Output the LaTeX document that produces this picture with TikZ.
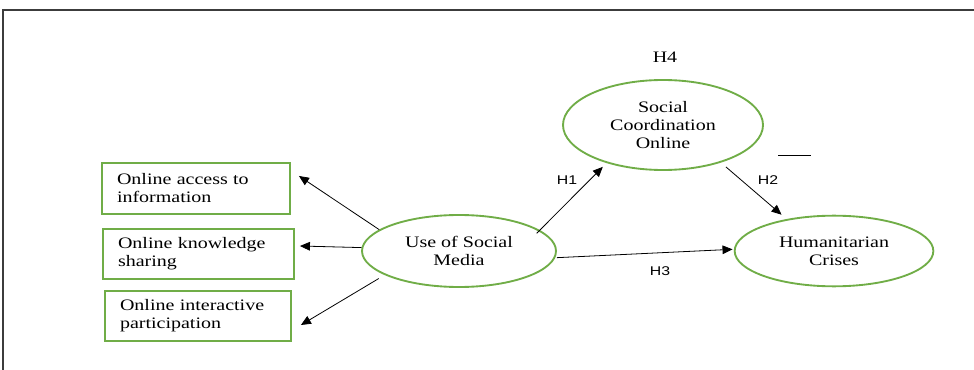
\documentclass[tikz,border=0pt]{standalone}
\usepackage{fontspec}
\setmainfont{Liberation Serif}[FakeStretch=1.25]
\newfontfamily\hfont{Liberation Sans}[FakeStretch=1.25]
\usetikzlibrary{shapes.geometric,arrows.meta,calc}
\definecolor{ogreen}{RGB}{112,173,71}
\definecolor{frame}{RGB}{60,60,60}
\tikzset{
  px/.style={x=0.75pt,y=-0.75pt},
  ell/.style={ellipse,draw=ogreen,line width=1.4pt,inner sep=0pt,align=center,
    font=\fontsize{12pt}{13.5pt}\selectfont},
  box/.style={rectangle,draw=ogreen,line width=1.4pt,align=left,inner xsep=11.25pt,
    minimum height=38pt,font=\fontsize{12pt}{13.5pt}\selectfont},
  arr/.style={draw=black,line width=0.6pt,-{Triangle[length=7.5pt,width=6.5pt]}},
  hlab/.style={font=\hfont\fontsize{9.5pt}{11pt}\selectfont,inner sep=0pt},
}
\begin{document}
\begin{tikzpicture}[px]
\useasboundingbox (0,0) rectangle (974,370);
\draw[frame,line width=1.5pt] (3,370) -- (3,10) -- (974,10);

\node[box,text width=118.5pt] (r1) at (196,188.5) {Online access to\\information};
\node[box,text width=120.75pt] (r2) at (198.5,254) {Online knowledge\\sharing};
\node[box,text width=117pt] (r3) at (198,316) {Online interactive\\participation};

\node[ell,minimum width=145.5pt,minimum height=54pt] (use) at (459,251) {Use of Social\\Media};
\node[ell,minimum width=150pt,minimum height=67.5pt] (sco) at (663,125) {Social\\Coordination\\Online};
\node[ell,minimum width=149pt,minimum height=53pt] (hum) at (834,251) {Humanitarian\\Crises};

\node[font=\fontsize{12pt}{13.5pt}\selectfont,inner sep=0pt] (h4) at (665,57) {H4};
\node[hlab] (h1) at (567,180) {H1};
\node[hlab] (h2) at (768,180) {H2};
\node[hlab] (h3) at (660,271) {H3};

\coordinate (dashA) at (778,155);
\coordinate (dashB) at (811,155);
\draw[line width=0.6pt] (dashA) -- (dashB);

\draw[arr] (use.165) -- ([xshift=6pt,yshift=9.4pt]r1.east);
\draw[arr] (use.178) -- ([xshift=3.75pt,yshift=6pt]r2.east);
\draw[arr] ([shift={(-6pt,-2pt)}]use.199) -- ([xshift=6.75pt,yshift=-6.75pt]r3.east);
\draw[arr,shorten >=4pt] ([shift={(-3pt,-2pt)}]use.14) -- (sco.214);
\draw[arr,shorten <=5pt,shorten >=5pt] (sco.327) -- (hum.146);
\draw[arr,shorten >=1pt] ([yshift=-5pt]use.east) -- (hum.179);
\end{tikzpicture}
\end{document}
